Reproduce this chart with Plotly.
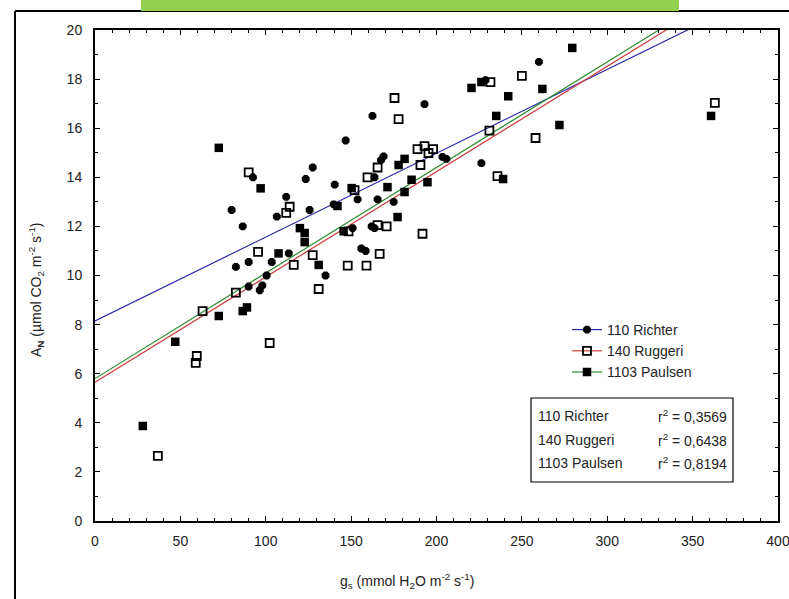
import plotly.graph_objects as go

# Stomatal conductance (gs) vs net assimilation (AN) for three rootstocks
richter_gs = [92.5, 80, 86.5, 113.5, 82.5, 90, 103.5, 112, 106.5, 90, 98, 96.5, 100.5,
              162.5, 146.8, 167.5, 169, 163.7, 127.5, 123.4, 140.4, 125.7, 139.8, 153.8,
              165.5, 135, 150.9, 162, 163.7, 156, 158.5, 174.9, 193, 203.5, 205.8, 226.3,
              228.7, 260]
richter_an = [14.0, 12.67, 12.0, 10.9, 10.35, 10.55, 10.55, 13.2, 12.4, 9.55, 9.6, 9.4, 10.0,
              16.5, 15.5, 14.7, 14.85, 14.0, 14.4, 13.93, 13.7, 12.67, 12.9, 13.1,
              13.1, 10.0, 11.93, 12.0, 11.93, 11.1, 11.0, 13.0, 16.98, 14.83, 14.75, 14.58,
              17.96, 18.7]

ruggeri_gs = [90, 112, 114, 95.5, 63, 82.5, 59.6, 59, 102.3, 36.8, 165.5, 159.6, 152, 116.4,
              127.5, 131, 148.5, 165.5, 170.8, 166.7, 148, 159, 191.8, 250, 231.6, 175.4,
              177.8, 231, 258, 188.9, 193, 198, 195.3, 190.6, 235.7, 363]
ruggeri_an = [14.2, 12.55, 12.8, 10.96, 8.55, 9.3, 6.72, 6.44, 7.25, 2.65, 14.4, 14.0, 13.48, 10.43,
              10.83, 9.45, 11.8, 12.05, 12.0, 10.88, 10.4, 10.4, 11.7, 18.13, 17.88, 17.23,
              16.37, 15.9, 15.6, 15.15, 15.27, 15.15, 14.99, 14.5, 14.05, 17.03]

paulsen_gs = [28, 47, 72.5, 72.5, 97, 107.5, 86.5, 89, 120, 122.8, 122.8, 142, 150.3, 131,
              145.6, 171.3, 181.3, 185.4, 194.7, 177.2, 279.5, 226.3, 220.5, 242, 262, 235,
              272, 181.3, 177.8, 239, 360.8]
paulsen_an = [3.87, 7.3, 15.2, 8.35, 13.55, 10.9, 8.55, 8.7, 11.93, 11.73, 11.36, 12.83, 13.56, 10.43,
              11.8, 13.6, 13.4, 13.9, 13.8, 12.38, 19.27, 17.88, 17.64, 17.3, 17.6, 16.5,
              16.13, 14.75, 14.5, 13.93, 16.5]

# Linear fits (intercept, slope) and coefficients of determination
names = ["110 Richter", "140 Ruggeri", "1103 Paulsen"]
intercepts = [8.15, 5.65, 5.8]
slopes = [0.03415, 0.0429, 0.0430]
r2_labels = ["0,3569", "0,6438", "0,8194"]
line_colors = ["#2b2ba8", "#cc3b3b", "#2e8b2e"]

x_ticks = [0, 50, 100, 150, 200, 250, 300, 350, 400]
y_ticks = [0, 2, 4, 6, 8, 10, 12, 14, 16, 18, 20]

FONT = "Liberation Sans, Arial, sans-serif"
TXT = "#222222"

W, H = 789, 599
L, R, T, B = 95, 11, 30, 78
PW, PH = W - L - R, H - T - B


def px(xp):
    return (xp - L) / PW


def py(yp):
    return (H - B - yp) / PH


fig = go.Figure()

# regression lines
for a, b, col in zip(intercepts, slopes, line_colors):
    xs = [0, 400]
    fig.add_trace(go.Scatter(x=xs, y=[a + b * v for v in xs], mode="lines",
                             line=dict(color=col, width=1.2), showlegend=False,
                             hoverinfo="skip"))

marker_styles = [
    dict(symbol="octagon", size=8.5, color="black", line=dict(width=0)),
    dict(symbol="square-open", size=8, color="black", line=dict(width=1.8)),
    dict(symbol="square", size=8.5, color="black", line=dict(width=0)),
]

for gs, an, m in zip([richter_gs, ruggeri_gs, paulsen_gs],
                     [richter_an, ruggeri_an, paulsen_an], marker_styles):
    fig.add_trace(go.Scatter(x=gs, y=an, mode="markers", marker=m, showlegend=False))

# legend entries: fit line with its group marker
for name, col, m in zip(names, line_colors, marker_styles):
    fig.add_trace(go.Scatter(x=[None], y=[None], mode="lines+markers", name=name,
                             line=dict(color=col, width=1.2), marker=m))

# r² summary box
fig.add_shape(type="rect", xref="paper", yref="paper",
              x0=px(531), x1=px(733), y0=py(482), y1=py(398),
              line=dict(color="black", width=1.2), fillcolor="white")
for i, (name, r2) in enumerate(zip(names, r2_labels)):
    yy = py(416 + i * 23.5)
    fig.add_annotation(xref="paper", yref="paper", x=px(536), y=yy, text=name,
                       showarrow=False, xanchor="left", yanchor="middle",
                       font=dict(family=FONT, size=14, color=TXT))
    fig.add_annotation(xref="paper", yref="paper", x=px(729), y=yy,
                       text="r<sup>2</sup> = " + r2,
                       showarrow=False, xanchor="right", yanchor="middle",
                       font=dict(family=FONT, size=14, color=TXT))

# outer frame and banner
fig.add_shape(type="line", xref="paper", yref="paper", x0=px(15), x1=px(15),
              y0=py(599), y1=py(11), line=dict(color="black", width=2))
fig.add_shape(type="line", xref="paper", yref="paper", x0=px(15), x1=px(789),
              y0=py(11), y1=py(11), line=dict(color="black", width=2))
fig.add_shape(type="rect", xref="paper", yref="paper", x0=px(141), x1=px(679),
              y0=py(11), y1=py(0), line=dict(width=0), fillcolor="#92D050")

# axis titles
fig.add_annotation(xref="paper", yref="paper", x=px(407), y=py(581),
                   text="g<sub>s</sub> (mmol H<sub>2</sub>O m<sup>-2</sup> s<sup>-1</sup>)",
                   showarrow=False, xanchor="center", yanchor="middle",
                   font=dict(family=FONT, size=14, color=TXT))
fig.add_annotation(xref="paper", yref="paper", x=px(36), y=py(290),
                   text="A<sub><b>N</b></sub> (µmol CO<sub>2</sub> m<sup>-2</sup> s<sup>-1</sup>)",
                   showarrow=False, xanchor="center", yanchor="middle", textangle=-90,
                   font=dict(family=FONT, size=14, color=TXT))

axis_common = dict(showgrid=False, zeroline=False, showline=True, linecolor="black",
                   linewidth=2, mirror="allticks", ticks="inside", tickcolor="black",
                   ticklen=5, tickwidth=1, automargin=False, ticklabeloverflow="allow",
                   tickfont=dict(family=FONT, size=14, color=TXT))

fig.update_xaxes(range=[0, 400], tickvals=x_ticks, ticklabelstandoff=6,
                 minor=dict(dtick=10, ticks="inside", ticklen=3, tickcolor="black"),
                 **axis_common)
fig.update_yaxes(range=[0, 20], tickvals=y_ticks, ticklabelstandoff=8,
                 minor=dict(dtick=1, ticks="inside", ticklen=3, tickcolor="black"),
                 **axis_common)

fig.update_layout(
    width=W, height=H, autosize=False,
    margin=dict(l=L, r=R, t=T, b=B, autoexpand=False),
    paper_bgcolor="white", plot_bgcolor="white",
    font=dict(family=FONT, size=14, color=TXT),
    legend=dict(x=px(567), y=py(314), xanchor="left", yanchor="top",
                bgcolor="rgba(0,0,0,0)", borderwidth=0,
                font=dict(family=FONT, size=14, color=TXT)),
)

fig.write_html("out.html")
